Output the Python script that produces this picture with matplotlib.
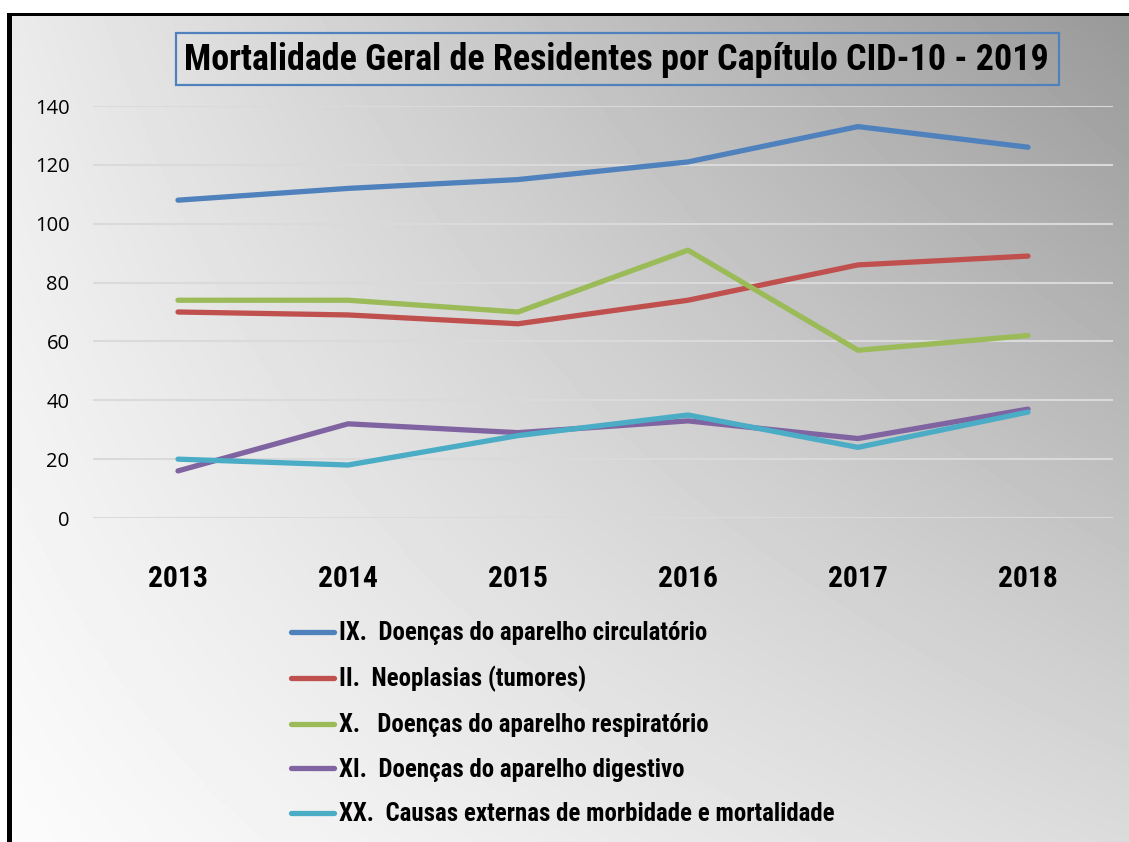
import numpy as np
import matplotlib
matplotlib.use("Agg")
import matplotlib.pyplot as plt
from matplotlib.patches import Rectangle
from matplotlib import font_manager

# ---- data ----
years = ["2013", "2014", "2015", "2016", "2017", "2018"]
circulatorio = [108, 112, 115, 121, 133, 126]
neoplasias = [70, 69, 66, 74, 86, 89]
respiratorio = [74, 74, 70, 91, 57, 62]
digestivo = [16, 32, 29, 33, 27, 37]
externas = [20, 18, 28, 35, 24, 36]
series_labels = [
    "IX.  Doenças do aparelho circulatório",
    "II.  Neoplasias (tumores)",
    "X.   Doenças do aparelho respiratório",
    "XI.  Doenças do aparelho digestivo",
    "XX.  Causas externas de morbidade e mortalidade",
]
y_ticks = [0, 20, 40, 60, 80, 100, 120, 140]
title = "Mortalidade Geral de Residentes por Capítulo CID-10 - 2019"

colors = ["#4F81BD", "#C0504D", "#9BBB59", "#8064A2", "#4BACC6"]

installed = {f.name for f in font_manager.fontManager.ttflist}
narrow_choice = None
for cand in ["Roboto Condensed", "Liberation Sans Narrow", "Arial Narrow", "Open Sans Condensed", "Roboto", "Liberation Sans"]:
    if cand in installed:
        narrow_choice = cand
        break
narrow = [narrow_choice or "DejaVu Sans", "DejaVu Sans"]

W, H = 1129, 842
fig = plt.figure(figsize=(W / 100, H / 100), dpi=100)
fig.patch.set_facecolor("white")

# background gradient + border
bg = fig.add_axes([0, 0, 1, 1], zorder=-5)
bg.set_xlim(0, W)
bg.set_ylim(H, 0)
bg.axis("off")
gx, gy = np.meshgrid(np.linspace(0, 1, 200), np.linspace(0, 1, 200))
tl, tr, bl, br = 0.92, 0.60, 0.985, 0.86
grad = (tl * (1 - gx) * (1 - gy) + tr * gx * (1 - gy) + bl * (1 - gx) * gy + br * gx * gy)
bg.imshow(grad, cmap="gray", vmin=0, vmax=1, extent=(12, W, H, 16), aspect="auto", interpolation="bilinear")
bg.add_patch(Rectangle((7, 13), 5, H, color="black", lw=0))
bg.add_patch(Rectangle((7, 13), W, 3, color="black", lw=0))
# title box
bg.add_patch(Rectangle((176, 33), 883, 52, fill=False, edgecolor="#4F81BD", lw=1.6))
ttl = bg.text(616, 60, title, ha="center", va="center", fontsize=24, fontweight="bold",
              family=narrow, color="black")

# main axes
left, right, top, bottom = 93, 1113, 106, 518
ax = fig.add_axes([left / W, 1 - bottom / H, (right - left) / W, (bottom - top) / H])
ax.set_facecolor("none")
x = np.arange(len(years))
all_series = [circulatorio, neoplasias, respiratorio, digestivo, externas]
for vals, col, lab in zip(all_series, colors, series_labels):
    ax.plot(x, vals, color=col, lw=3.8, label=lab, solid_capstyle="round", solid_joinstyle="round")
ax.set_xlim(-0.5, len(years) - 0.5)
ax.set_ylim(0, 140)
ax.set_yticks(y_ticks)
ax.set_yticklabels([str(v) for v in y_ticks], fontsize=14.5, family=["Open Sans", "DejaVu Sans"])
ax.set_xticks(x)
ax.set_xticklabels(years, fontsize=21, fontweight="bold", family=narrow)
ax.tick_params(axis="both", length=0)
ax.tick_params(axis="y", pad=17)
ax.tick_params(axis="x", pad=34)
for s in ax.spines.values():
    s.set_visible(False)
ax.grid(axis="y", color="#DADADA", lw=1.5)
ax.set_axisbelow(True)

leg = ax.legend(loc="upper left", bbox_to_anchor=(291 / W, 1 - 621 / H), bbox_transform=fig.transFigure,
                frameon=False, prop={"family": narrow, "weight": "bold", "size": 17},
                handlelength=1.82, handletextpad=0.2, labelspacing=0.88, borderaxespad=0, borderpad=0)
for h in leg.get_lines():
    h.set_linewidth(3.8)

# fit text widths to the reference
fig.canvas.draw()
r = fig.canvas.get_renderer()
def fit(t, target):
    w = t.get_window_extent(r).width
    t.set_fontsize(t.get_fontsize() * target / w)
fit(ttl, 867)
xt = ax.get_xticklabels()
w0 = xt[0].get_window_extent(r).width
for t in xt:
    t.set_fontsize(t.get_fontsize() * 60 / w0)
lt = leg.get_texts()
w0 = lt[-1].get_window_extent(r).width
for t in lt:
    t.set_fontsize(t.get_fontsize() * 495 / w0)

fig.savefig("out.png", dpi=100)
